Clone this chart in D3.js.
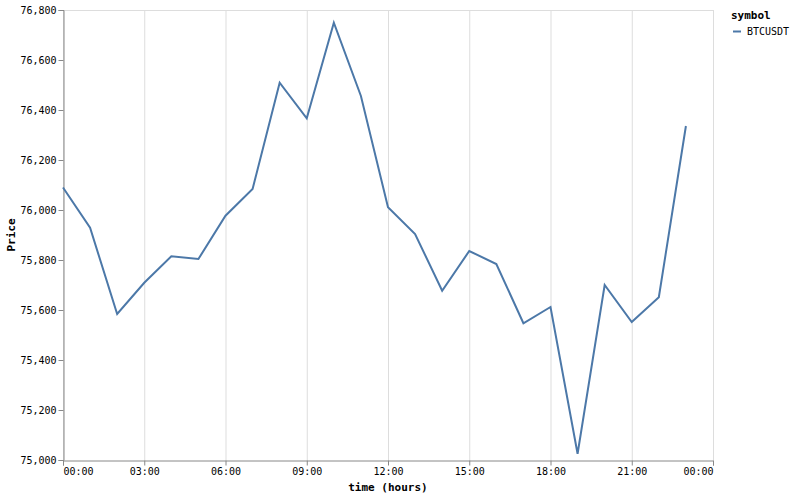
<!DOCTYPE html>
<meta charset="utf-8">
<style>
body { margin: 0; background: #fff; }
svg text { font-family: "DejaVu Sans Mono", monospace; }
</style>
<svg width="794" height="497"></svg>
<script src="https://d3js.org/d3.v7.min.js"></script>
<script>

// hourly BTCUSDT closes
var hours = d3.range(24); // 00:00 .. 23:00
var prices = [76090, 75929, 75584, 75709, 75815, 75804, 75977, 76084,
              76509, 76367, 76749, 76456, 76011, 75904, 75677, 75836,
              75784, 75547, 75612, 75025, 75700, 75552, 75651, 76336];
var symbol = "BTCUSDT";
var yTicks = [75000, 75200, 75400, 75600, 75800, 76000, 76200, 76400, 76600, 76800];

var day = Date.UTC(2025, 0, 1);
var data = hours.map(function(h, i) {
  return {time: new Date(day + h * 3600e3), price: prices[i]};
});

var svg = d3.select("svg"),
    margin = {top: 10, right: 81, bottom: 37, left: 63},
    width = +svg.attr("width") - margin.left - margin.right,
    height = +svg.attr("height") - margin.top - margin.bottom,
    g = svg.append("g").attr("transform", "translate(" + margin.left + "," + margin.top + ")");

var x = d3.scaleUtc()
    .domain([new Date(day), new Date(day + 24 * 3600e3)])
    .range([0, width]);

var y = d3.scaleLinear()
    .domain([75000, 76800])
    .range([height, 0]);

var xTicks = x.ticks(d3.utcHour.every(3));

// vertical grid + top edge of the view
g.append("g").selectAll("line")
  .data(xTicks)
  .enter().append("line")
    .attr("x1", function(d) { return x(d) + 0.5; })
    .attr("x2", function(d) { return x(d) + 0.5; })
    .attr("y1", 0).attr("y2", height)
    .attr("stroke", "#ddd");
g.append("line")
    .attr("x1", 0).attr("x2", width + 0.5)
    .attr("y1", 0.5).attr("y2", 0.5)
    .attr("stroke", "#ddd");

// axes
var xAxis = g.append("g")
    .attr("transform", "translate(0," + (height + 0.5) + ")")
    .call(d3.axisBottom(x).tickValues(xTicks).tickFormat(d3.utcFormat("%H:%M")).tickSize(5).tickPadding(2).offset(0.5));
var yAxis = g.append("g")
    .attr("transform", "translate(0.5,0)")
    .call(d3.axisLeft(y).tickValues(yTicks).tickFormat(d3.format(",")).tickSize(5).tickPadding(2).offset(0.5));

[xAxis, yAxis].forEach(function(a) {
  a.select(".domain").attr("stroke", "#888");
  a.selectAll(".tick line").attr("stroke", "#888");
  a.selectAll(".tick text")
    .attr("fill", "#000")
    .style("font-family", "'DejaVu Sans Mono', monospace")
    .style("font-size", "10px");
});
xAxis.selectAll(".tick text")
    .attr("text-anchor", function(d, i) { return i === 0 ? "start" : (i === xTicks.length - 1 ? "end" : "middle"); });

// line
g.append("path")
    .datum(data)
    .attr("fill", "none")
    .attr("stroke", "#4c78a8")
    .attr("stroke-width", 2)
    .attr("d", d3.line()
      .x(function(d) { return x(d.time); })
      .y(function(d) { return y(d.price); }));

// titles
svg.append("text")
    .attr("x", margin.left + width / 2)
    .attr("y", 491)
    .attr("text-anchor", "middle")
    .style("font-size", "11px")
    .style("font-weight", "bold")
    .text("time (hours)");
svg.append("text")
    .attr("transform", "translate(15," + (margin.top + height / 2) + ") rotate(-90)")
    .attr("text-anchor", "middle")
    .style("font-size", "11px")
    .style("font-weight", "bold")
    .text("Price");

// legend
var legend = svg.append("g").attr("transform", "translate(731,0)");
legend.append("text")
    .attr("x", 0).attr("y", 19)
    .style("font-size", "11px")
    .style("font-weight", "bold")
    .text("symbol");
legend.append("line")
    .attr("x1", 2).attr("x2", 10)
    .attr("y1", 31.5).attr("y2", 31.5)
    .attr("stroke", "#4c78a8")
    .attr("stroke-width", 2);
legend.append("text")
    .attr("x", 16).attr("y", 35)
    .style("font-size", "10px")
    .text(symbol);

</script>
